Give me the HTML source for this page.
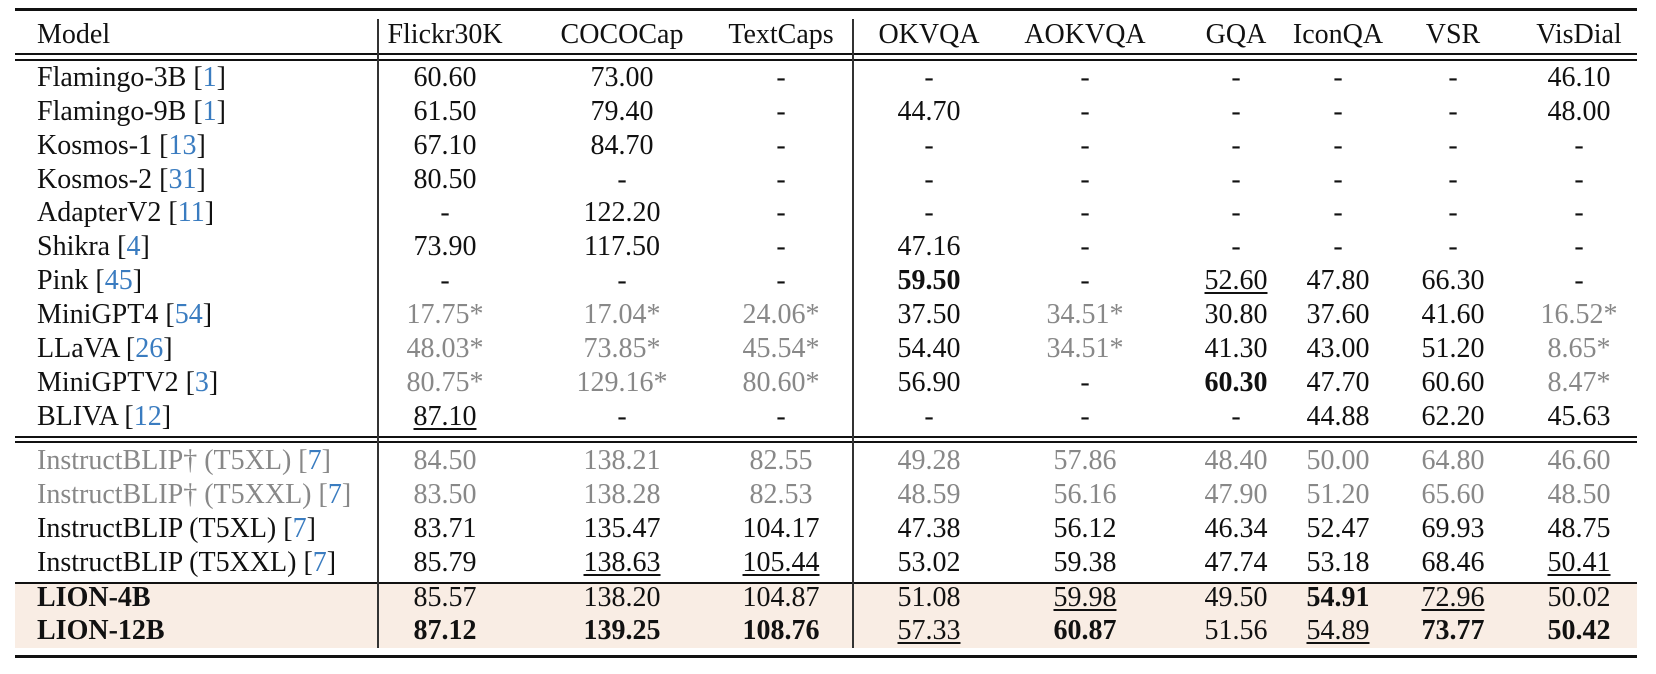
<!DOCTYPE html>
<html><head><meta charset="utf-8"><style>
html,body{margin:0;padding:0;background:#fff;}
#w{position:relative;width:1656px;height:674px;overflow:hidden;font-family:"Liberation Serif",serif;font-size:28px;color:#111;}
.r{position:absolute;left:0;width:1656px;height:34px;line-height:34px;}
.r span{position:absolute;top:0;width:170px;text-align:center;white-space:nowrap;}
.r span.m{left:37px;width:330px;text-align:left;}
.r span:nth-child(2){left:360px}
.r span:nth-child(3){left:537px}
.r span:nth-child(4){left:696px}
.r span:nth-child(5){left:844px}
.r span:nth-child(6){left:1000px}
.r span:nth-child(7){left:1151px}
.r span:nth-child(8){left:1253px}
.r span:nth-child(9){left:1368px}
.r span:nth-child(10){left:1494px}
.g{color:#888}
.b{color:#3a7cc0}
b{font-weight:bold}
u{text-decoration:underline;text-underline-offset:3px;text-decoration-thickness:1.5px}
.h{position:absolute;left:15px;width:1622px;background:#111;}
.v{position:absolute;width:2px;background:#333;}
</style></head><body><div id="w">
<div style="position:absolute;left:15px;top:584px;width:1622px;height:64px;background:#f9ede4"></div>
<div class="h" style="top:8px;height:3px"></div>
<div class="h" style="top:53px;height:1.5px"></div>
<div class="h" style="top:59px;height:1.5px"></div>
<div class="h" style="top:436px;height:1.5px"></div>
<div class="h" style="top:441px;height:1.5px"></div>
<div class="h" style="top:582px;height:1.5px"></div>
<div class="h" style="top:655px;height:3px"></div>
<div class="v" style="left:377px;top:19px;height:629px"></div>
<div class="v" style="left:852px;top:19px;height:629px"></div>

<div class="r" style="top:18px"><span class="m">Model</span><span>Flickr30K</span><span>COCOCap</span><span>TextCaps</span><span>OKVQA</span><span>AOKVQA</span><span>GQA</span><span>IconQA</span><span>VSR</span><span>VisDial</span></div>

<div class="r" style="top:61px"><span class="m">Flamingo-3B [<span class="b" style="position:static">1</span>]</span><span>60.60</span><span>73.00</span><span>-</span><span>-</span><span>-</span><span>-</span><span>-</span><span>-</span><span>46.10</span></div>
<div class="r" style="top:95px"><span class="m">Flamingo-9B [<i class="b" style="font-style:normal">1</i>]</span><span>61.50</span><span>79.40</span><span>-</span><span>44.70</span><span>-</span><span>-</span><span>-</span><span>-</span><span>48.00</span></div>
<div class="r" style="top:129px"><span class="m">Kosmos-1 [<i class="b" style="font-style:normal">13</i>]</span><span>67.10</span><span>84.70</span><span>-</span><span>-</span><span>-</span><span>-</span><span>-</span><span>-</span><span>-</span></div>
<div class="r" style="top:163px"><span class="m">Kosmos-2 [<i class="b" style="font-style:normal">31</i>]</span><span>80.50</span><span>-</span><span>-</span><span>-</span><span>-</span><span>-</span><span>-</span><span>-</span><span>-</span></div>
<div class="r" style="top:196px"><span class="m">AdapterV2 [<i class="b" style="font-style:normal">11</i>]</span><span>-</span><span>122.20</span><span>-</span><span>-</span><span>-</span><span>-</span><span>-</span><span>-</span><span>-</span></div>
<div class="r" style="top:230px"><span class="m">Shikra [<i class="b" style="font-style:normal">4</i>]</span><span>73.90</span><span>117.50</span><span>-</span><span>47.16</span><span>-</span><span>-</span><span>-</span><span>-</span><span>-</span></div>
<div class="r" style="top:264px"><span class="m">Pink [<i class="b" style="font-style:normal">45</i>]</span><span>-</span><span>-</span><span>-</span><span><b>59.50</b></span><span>-</span><span><u>52.60</u></span><span>47.80</span><span>66.30</span><span>-</span></div>
<div class="r" style="top:298px"><span class="m">MiniGPT4 [<i class="b" style="font-style:normal">54</i>]</span><span class="g">17.75*</span><span class="g">17.04*</span><span class="g">24.06*</span><span>37.50</span><span class="g">34.51*</span><span>30.80</span><span>37.60</span><span>41.60</span><span class="g">16.52*</span></div>
<div class="r" style="top:332px"><span class="m">LLaVA [<i class="b" style="font-style:normal">26</i>]</span><span class="g">48.03*</span><span class="g">73.85*</span><span class="g">45.54*</span><span>54.40</span><span class="g">34.51*</span><span>41.30</span><span>43.00</span><span>51.20</span><span class="g">8.65*</span></div>
<div class="r" style="top:366px"><span class="m">MiniGPTV2 [<i class="b" style="font-style:normal">3</i>]</span><span class="g">80.75*</span><span class="g">129.16*</span><span class="g">80.60*</span><span>56.90</span><span>-</span><span><b>60.30</b></span><span>47.70</span><span>60.60</span><span class="g">8.47*</span></div>
<div class="r" style="top:400px"><span class="m">BLIVA [<i class="b" style="font-style:normal">12</i>]</span><span><u>87.10</u></span><span>-</span><span>-</span><span>-</span><span>-</span><span>-</span><span>44.88</span><span>62.20</span><span>45.63</span></div>

<div class="r g" style="top:444px"><span class="m">InstructBLIP† (T5XL) [<i class="b" style="font-style:normal">7</i>]</span><span>84.50</span><span>138.21</span><span>82.55</span><span>49.28</span><span>57.86</span><span>48.40</span><span>50.00</span><span>64.80</span><span>46.60</span></div>
<div class="r g" style="top:478px"><span class="m">InstructBLIP† (T5XXL) [<i class="b" style="font-style:normal">7</i>]</span><span>83.50</span><span>138.28</span><span>82.53</span><span>48.59</span><span>56.16</span><span>47.90</span><span>51.20</span><span>65.60</span><span>48.50</span></div>
<div class="r" style="top:512px"><span class="m">InstructBLIP (T5XL) [<i class="b" style="font-style:normal">7</i>]</span><span>83.71</span><span>135.47</span><span>104.17</span><span>47.38</span><span>56.12</span><span>46.34</span><span>52.47</span><span>69.93</span><span>48.75</span></div>
<div class="r" style="top:546px"><span class="m">InstructBLIP (T5XXL) [<i class="b" style="font-style:normal">7</i>]</span><span>85.79</span><span><u>138.63</u></span><span><u>105.44</u></span><span>53.02</span><span>59.38</span><span>47.74</span><span>53.18</span><span>68.46</span><span><u>50.41</u></span></div>
<div class="r" style="top:581px"><span class="m"><b>LION-4B</b></span><span>85.57</span><span>138.20</span><span>104.87</span><span>51.08</span><span><u>59.98</u></span><span>49.50</span><span><b>54.91</b></span><span><u>72.96</u></span><span>50.02</span></div>
<div class="r" style="top:614px"><span class="m"><b>LION-12B</b></span><span><b>87.12</b></span><span><b>139.25</b></span><span><b>108.76</b></span><span><u>57.33</u></span><span><b>60.87</b></span><span>51.56</span><span><u>54.89</u></span><span><b>73.77</b></span><span><b>50.42</b></span></div>
</div></body></html>
